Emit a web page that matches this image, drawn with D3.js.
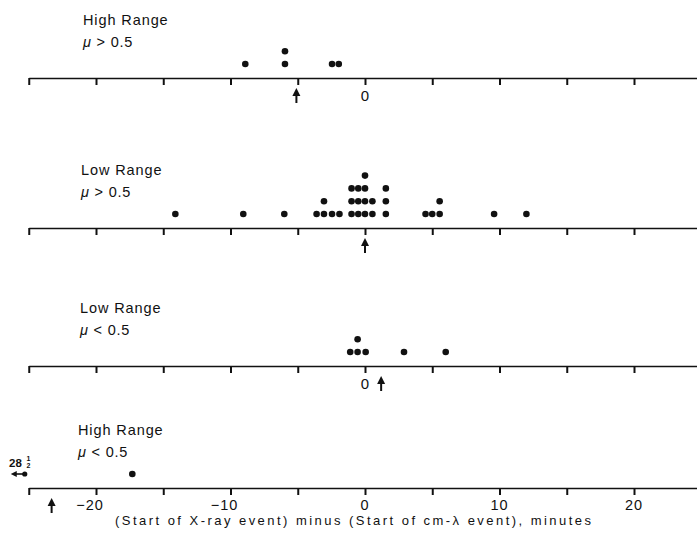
<!DOCTYPE html>
<html>
<head>
<meta charset="utf-8">
<script src="https://cdn.jsdelivr.net/npm/d3@7"></script>
<style>
  body { margin: 0; background: #fff; }
  text { font-family: "Liberation Sans", Arial, sans-serif; fill: #111; }
</style>
</head>
<body>
<div id="chart"></div>
<script>
// values (minutes)
var rangeLabels = ["High Range", "Low Range", "Low Range", "High Range"];
var muSigns = ["> 0.5", "> 0.5", "< 0.5", "< 0.5"];

var highRangeHighMu = [-8.9, -5.95, -5.95, -2.45, -1.95];
var lowRangeHighMu = [-14.1, -9.05, -6.0, -3.6, -3.05, -3.05, -2.45, -1.9,
  -1.0, -1.0, -1.0, -0.5, -0.5, -0.5, 0, 0, 0, 0, 0.55, 0.55,
  1.55, 1.55, 1.55, 4.5, 5.0, 5.55, 5.55, 9.6, 12.0];
var lowRangeLowMu = [-1.1, -0.55, -0.55, 0.05, 2.9, 6.0];
var highRangeLowMu = [-17.3];
var offScale = [-28.5]; // shown as "28 1/2" with arrow

var medians = [-5.1, 0, 1.2, -23.3];
var zeroLabel = [true, false, true, false];
var tickLabels = [-20, -10, 0, 10, 20];

var allSeries = [highRangeHighMu, lowRangeHighMu, lowRangeLowMu, highRangeLowMu];

var width = 697, height = 534;
var axisY = [78, 228, 366, 488];
var labelX = [83, 81, 80, 78];
var dotR = 3.3;
var rowGap = 12.8;

var svg = d3.select("#chart").append("svg")
  .attr("width", width)
  .attr("height", height);

var x = d3.scaleLinear()
  .domain([-25, 25])
  .range([365 - 25 * 13.45, 365 + 25 * 13.45]);

function drawArrow(g, cx, y0, y1) {
  g.append("line")
    .attr("x1", cx).attr("x2", cx)
    .attr("y1", y0 + 6).attr("y2", y1)
    .attr("stroke", "#111").attr("stroke-width", 2);
  g.append("path")
    .attr("d", "M" + cx + "," + y0 + " L" + (cx - 4) + "," + (y0 + 8) + " L" + (cx + 4) + "," + (y0 + 8) + " Z")
    .attr("fill", "#111");
}

for (let p = 0; p < 4; p++) {
  var g = svg.append("g");
  var ay = axisY[p];

  // axis with ticks every 5 minutes, hanging down
  var axis = d3.axisBottom(x)
    .tickValues(d3.range(-25, 26, 5))
    .tickSize(7)
    .tickSizeOuter(0)
    .tickFormat("");
  var ag = g.append("g")
    .attr("transform", "translate(0," + ay + ")")
    .call(axis);
  ag.select(".domain").attr("stroke", "#111").attr("stroke-width", 1.7);
  ag.selectAll(".tick line").attr("stroke", "#111").attr("stroke-width", 2);

  // panel labels
  g.append("text")
    .attr("x", labelX[p]).attr("y", ay - 53)
    .attr("font-size", 14.5)
    .attr("letter-spacing", 0.9)
    .text(rangeLabels[p]);
  var mu = g.append("text")
    .attr("x", labelX[p]).attr("y", ay - 31)
    .attr("font-size", 14.5)
    .attr("letter-spacing", 0.8);
  mu.append("tspan").attr("font-style", "italic").text("\u03bc");
  mu.append("tspan").text(" " + muSigns[p]);

  // stacked dots
  var counts = {};
  var dots = allSeries[p].map(function(v) {
    var k = String(v);
    counts[k] = (counts[k] || 0) + 1;
    return { v: v, row: counts[k] - 1 };
  });
  g.selectAll("circle.dot")
    .data(dots)
    .enter().append("circle")
    .attr("class", "dot")
    .attr("cx", function(d) { return x(d.v); })
    .attr("cy", function(d) { return ay - 14 - d.row * rowGap; })
    .attr("r", dotR)
    .attr("fill", "#111");

  // arrow marking the median
  drawArrow(g, x(medians[p]), ay + 10, ay + 25);

  if (zeroLabel[p]) {
    g.append("text")
      .attr("x", x(0)).attr("y", ay + 23)
      .attr("text-anchor", "middle")
      .attr("font-size", 15)
      .text("0");
  }
}

// off-scale point in the last panel
var ly = axisY[3];
var offX = x(-25) - 4;
svg.append("circle")
  .attr("cx", offX).attr("cy", ly - 14)
  .attr("r", 2.6).attr("fill", "#111");
svg.append("line")
  .attr("x1", offX).attr("x2", offX - 10)
  .attr("y1", ly - 14).attr("y2", ly - 14)
  .attr("stroke", "#111").attr("stroke-width", 1.6);
svg.append("path")
  .attr("d", "M" + (offX - 14) + "," + (ly - 14) + " L" + (offX - 8) + "," + (ly - 17) + " L" + (offX - 8) + "," + (ly - 11) + " Z")
  .attr("fill", "#111");
svg.append("text")
  .attr("x", 9).attr("y", ly - 21)
  .attr("font-size", 11.5)
  .attr("font-weight", "bold")
  .text(String(Math.floor(-offScale[0])));
svg.append("text")
  .attr("x", 28.5).attr("y", ly - 27)
  .attr("font-size", 7).attr("font-weight", "bold")
  .attr("text-anchor", "middle").text("1");
svg.append("text")
  .attr("x", 28.5).attr("y", ly - 20)
  .attr("font-size", 7).attr("font-weight", "bold")
  .attr("text-anchor", "middle").text("2");

// bottom tick labels
svg.selectAll("text.tl")
  .data(tickLabels)
  .enter().append("text")
  .attr("class", "tl")
  .attr("x", function(d) { return x(d) + (d < 0 ? -6 : 0); })
  .attr("y", ly + 22)
  .attr("text-anchor", "middle")
  .attr("font-size", 14.5)
  .attr("letter-spacing", 1)
  .text(function(d) { return d < 0 ? "\u2212" + Math.abs(d) : d; });

svg.append("text")
  .attr("x", 353).attr("y", ly + 37)
  .attr("text-anchor", "middle")
  .attr("font-size", 13)
  .attr("textLength", 476)
  .attr("lengthAdjust", "spacing")
  .text("(Start of X-ray event) minus (Start of cm-\u03bb event), minutes");
</script>
</body>
</html>
